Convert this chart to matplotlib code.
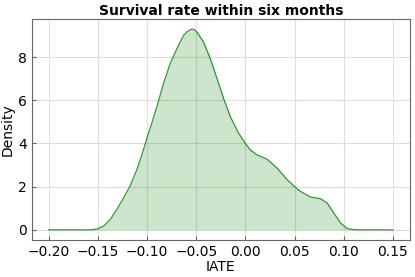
import matplotlib.pyplot as plt

# IATE values and estimated density
iate = [-0.200, -0.170, -0.160, -0.155, -0.151, -0.1444, -0.1376, -0.1308, -0.124,
        -0.1172, -0.1104, -0.1037, -0.0986, -0.0958, -0.090, -0.0833, -0.0765,
        -0.0696, -0.0629, -0.059, -0.056, -0.0543, -0.052, -0.0492, -0.0425,
        -0.0357, -0.0288, -0.0221, -0.0153, -0.0085, -0.0068, 0.000, 0.0051,
        0.0119, 0.0221, 0.0323, 0.0425, 0.0527, 0.056, 0.0663, 0.0765, 0.0833,
        0.090, 0.0968, 0.1037, 0.110, 0.120, 0.150]
density = [0.0, 0.0, 0.0, 0.01, 0.04, 0.17, 0.47, 0.94, 1.47,
           2.04, 2.78, 3.70, 4.47, 4.85, 5.70, 6.77, 7.70,
           8.39, 9.00, 9.18, 9.26, 9.29, 9.27, 9.15, 8.69,
           7.93, 7.00, 6.08, 5.24, 4.62, 4.47, 4.00, 3.70,
           3.47, 3.27, 2.86, 2.32, 1.90, 1.78, 1.52, 1.44, 1.24,
           0.78, 0.32, 0.06, 0.01, 0.0, 0.0]

xticks = [-0.20, -0.15, -0.10, -0.05, 0.00, 0.05, 0.10, 0.15]
yticks = [0, 2, 4, 6, 8]

fig = plt.figure(figsize=(4.15, 2.77), dpi=100)
ax = fig.add_axes([0.076, 0.134, 0.912, 0.797])

ax.fill_between(iate, density, color='green', alpha=0.2, linewidth=0)
ax.plot(iate, density, color='green', linewidth=0.9, alpha=0.8)

ax.set_xticks(xticks)
ax.set_yticks(yticks)
ax.grid(True, color='#dddddd', linewidth=0.8)
ax.set_axisbelow(True)
ax.tick_params(direction='in', length=3, labelsize=10, colors='0.4', labelcolor='black')
for s in ax.spines.values():
    s.set_color('0.4')

ax.set_title('Survival rate within six months', fontsize=10, fontweight='bold', pad=3)
ax.set_xlabel('IATE', fontsize=10, labelpad=1)
ax.set_ylabel('Density', fontsize=10, labelpad=2)

fig.savefig('out.png', dpi=100)
